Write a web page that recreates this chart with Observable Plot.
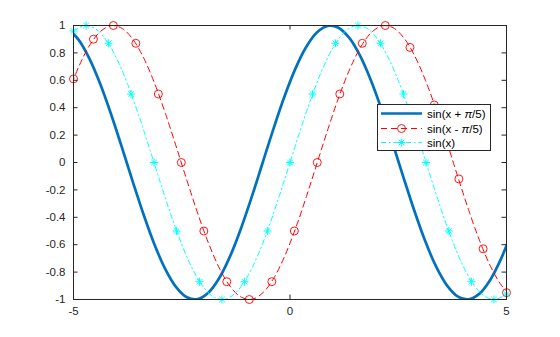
<!DOCTYPE html>
<html>
<head>
<meta charset="utf-8">
<script src="https://cdn.jsdelivr.net/npm/d3@7"></script>
<script src="https://cdn.jsdelivr.net/npm/@observablehq/plot@0.6"></script>
<style>
  html, body { margin: 0; padding: 0; background: #fff; }
  #wrap { position: relative; width: 560px; height: 337px; font-family: "Liberation Sans", Arial, sans-serif; }
  #legend { position: absolute; left: 377px; top: 104px; width: 112px; height: 45px; background: #fff; border: 1px solid #262626; font-size: 11.5px; color: #000; }
  #legend .row { position: absolute; left: 0; height: 15px; display: flex; align-items: center; }
  #legend svg { display: block; }
  #legend span { margin-left: 3px; white-space: nowrap; }
</style>
</head>
<body>
<div id="wrap"></div>
<script>
// ---- data ----
const xTicks = [-5, 0, 5];
const yTicks = [-1, -0.8, -0.6, -0.4, -0.2, 0, 0.2, 0.4, 0.6, 0.8, 1];
const seriesNames = ["sin(x + π/5)", "sin(x - π/5)", "sin(x)"];

// sin(x + pi/5) curve (thick blue)
const blueX = [-5.13, -4.88, -4.63, -4.38, -4.13, -3.88, -3.63, -3.38, -3.13, -2.88, -2.63, -2.38, -2.13, -1.88, -1.63, -1.38, -1.13, -0.88, -0.63, -0.38, -0.13, 0.12, 0.37, 0.62, 0.87, 1.12, 1.37, 1.62, 1.87, 2.12, 2.37, 2.62, 2.87, 3.12, 3.37, 3.62, 3.87, 4.12, 4.37, 4.62, 4.87, 5.12];
const blueY = [0.9775, 0.8950, 0.7568, 0.5716, 0.3508, 0.1082, -0.1411, -0.3817, -0.5985, -0.7781, -0.9093, -0.9840, -0.9975, -0.9490, -0.8415, -0.6816, -0.4794, -0.2474, 0, 0.2474, 0.4794, 0.6816, 0.8415, 0.9490, 0.9975, 0.9840, 0.9093, 0.7781, 0.5985, 0.3817, 0.1411, -0.1082, -0.3508, -0.5716, -0.7568, -0.8950, -0.9775, -0.9993, -0.9589, -0.8589, -0.7055, -0.5082];

// sin(x - pi/5) curve (red dashed)
const redX = [-5.12, -4.87, -4.62, -4.37, -4.12, -3.87, -3.62, -3.37, -3.12, -2.87, -2.62, -2.37, -2.12, -1.87, -1.62, -1.37, -1.12, -0.87, -0.62, -0.37, -0.12, 0.13, 0.38, 0.63, 0.88, 1.13, 1.38, 1.63, 1.88, 2.13, 2.38, 2.63, 2.88, 3.13, 3.38, 3.63, 3.88, 4.13, 4.38, 4.63, 4.88, 5.13];
const redY = [0.5082, 0.7055, 0.8589, 0.9589, 0.9993, 0.9775, 0.8950, 0.7568, 0.5716, 0.3508, 0.1082, -0.1411, -0.3817, -0.5985, -0.7781, -0.9093, -0.9840, -0.9975, -0.9490, -0.8415, -0.6816, -0.4794, -0.2474, 0, 0.2474, 0.4794, 0.6816, 0.8415, 0.9490, 0.9975, 0.9840, 0.9093, 0.7781, 0.5985, 0.3817, 0.1411, -0.1082, -0.3508, -0.5716, -0.7568, -0.8950, -0.9775];
const redMarkX = [-5, -4.54, -4.08, -3.56, -3.04, -2.51, -1.99, -1.46, -0.94, -0.42, 0.10, 0.63, 1.15, 1.67, 2.20, 2.77, 3.33, 3.90, 4.46, 5];
const redMarkY = [0.61, 0.90, 1, 0.87, 0.5, 0, -0.5, -0.87, -1, -0.87, -0.5, 0, 0.5, 0.87, 1, 0.84, 0.42, -0.12, -0.63, -0.95];

// sin(x) curve (cyan dash-dot)
const cyanX = [-5, -4.75, -4.5, -4.25, -4, -3.75, -3.5, -3.25, -3, -2.75, -2.5, -2.25, -2, -1.75, -1.5, -1.25, -1, -0.75, -0.5, -0.25, 0, 0.25, 0.5, 0.75, 1, 1.25, 1.5, 1.75, 2, 2.25, 2.5, 2.75, 3, 3.25, 3.5, 3.75, 4, 4.25, 4.5, 4.75, 5];
const cyanY = [0.9589, 0.9993, 0.9775, 0.8950, 0.7568, 0.5716, 0.3508, 0.1082, -0.1411, -0.3817, -0.5985, -0.7781, -0.9093, -0.9840, -0.9975, -0.9490, -0.8415, -0.6816, -0.4794, -0.2474, 0, 0.2474, 0.4794, 0.6816, 0.8415, 0.9490, 0.9975, 0.9840, 0.9093, 0.7781, 0.5985, 0.3817, 0.1411, -0.1082, -0.3508, -0.5716, -0.7568, -0.8950, -0.9775, -0.9993, -0.9589];
const cyanMarkX = [-5, -4.71, -4.19, -3.67, -3.14, -2.62, -2.09, -1.57, -1.05, -0.52, 0, 0.52, 1.05, 1.57, 2.09, 2.62, 3.14, 3.67, 4.19, 4.71, 5];
const cyanMarkY = [0.96, 1, 0.87, 0.5, 0, -0.5, -0.87, -1, -0.87, -0.5, 0, 0.5, 0.87, 1, 0.87, 0.5, 0, -0.5, -0.87, -1, -0.96];

// ---- build ----
const zip = (xs, ys) => xs.map((x, i) => ({x, y: ys[i]}));
const blue = zip(blueX, blueY), red = zip(redX, redY), cyan = zip(cyanX, cyanY);
const redM = zip(redMarkX, redMarkY), cyanM = zip(cyanMarkX, cyanMarkY);

const BLUE = "#0072BD", RED = "#FF0000", CYAN = "#00FFFF", AX = "#262626";
const W = 560, H = 337, ML = 73, MR = 54, MT = 25, MB = 38;
const PW = W - ML - MR, PH = H - MT - MB;

const starSymbol = {
  draw(ctx, size) {
    const r = Math.sqrt(size / Math.PI);
    const d = r * Math.SQRT1_2;
    ctx.moveTo(-r, 0); ctx.lineTo(r, 0);
    ctx.moveTo(0, -r); ctx.lineTo(0, r);
    ctx.moveTo(-d, -d); ctx.lineTo(d, d);
    ctx.moveTo(-d, d); ctx.lineTo(d, -d);
  }
};

const chart = Plot.plot({
  width: W, height: H,
  marginLeft: ML, marginRight: MR, marginTop: MT, marginBottom: MB,
  style: {fontFamily: '"Liberation Sans", Arial, sans-serif', fontSize: "11.5px", color: AX, background: "white"},
  x: {domain: [-5, 5]},
  y: {domain: [-1, 1]},
  marks: [
    Plot.line(blue, {x: "x", y: "y", stroke: BLUE, strokeWidth: 2.7, curve: "catmull-rom", clip: true}),
    Plot.line(red, {x: "x", y: "y", stroke: RED, strokeWidth: 1, strokeDasharray: "6,4", curve: "catmull-rom", clip: true}),
    Plot.line(cyan, {x: "x", y: "y", stroke: CYAN, strokeWidth: 1, strokeDasharray: "5,3,1.5,3", curve: "catmull-rom", clip: true}),
    Plot.dot(redM, {x: "x", y: "y", r: 4, stroke: RED, strokeWidth: 0.9, fill: "none", symbol: "circle"}),
    Plot.dot(cyanM, {x: "x", y: "y", r: 4, stroke: CYAN, strokeWidth: 1, fill: "none", symbol: starSymbol}),
    Plot.frame({stroke: AX, strokeWidth: 1}),
    // inward ticks on all four sides
    Plot.tickX(xTicks, {x: d => d, stroke: AX, insetTop: PH - 4.5}),
    Plot.tickX(xTicks, {x: d => d, stroke: AX, insetBottom: PH - 4.5}),
    Plot.tickY(yTicks, {y: d => d, stroke: AX, insetLeft: PW - 4.5}),
    Plot.tickY(yTicks, {y: d => d, stroke: AX, insetRight: PW - 4.5}),
    Plot.axisX({ticks: xTicks, tickSize: 0, tickPadding: 7, tickFormat: d => String(d), label: null, fill: AX}),
    Plot.axisY({ticks: yTicks, tickSize: 0, tickPadding: 8, tickFormat: d => String(d), label: null, fill: AX})
  ]
});

const wrap = document.getElementById("wrap");
wrap.appendChild(chart);

// ---- legend ----
const legend = document.createElement("div");
legend.id = "legend";
const items = [
  {label: seriesNames[0], stroke: BLUE, width: 2.7, dash: null, marker: null},
  {label: seriesNames[1], stroke: RED, width: 1, dash: "6,4", marker: "circle"},
  {label: seriesNames[2], stroke: CYAN, width: 1, dash: "5,3,1.5,3", marker: "star"}
];
const tops = [1, 16, 30];
items.forEach((it, i) => {
  const row = document.createElement("div");
  row.className = "row";
  row.style.top = tops[i] + "px";
  const ns = "http://www.w3.org/2000/svg";
  const s = document.createElementNS(ns, "svg");
  s.setAttribute("width", 46); s.setAttribute("height", 15);
  const ln = document.createElementNS(ns, "line");
  ln.setAttribute("x1", 3); ln.setAttribute("x2", 44); ln.setAttribute("y1", 7.5); ln.setAttribute("y2", 7.5);
  ln.setAttribute("stroke", it.stroke); ln.setAttribute("stroke-width", it.width);
  if (it.dash) ln.setAttribute("stroke-dasharray", it.dash);
  s.appendChild(ln);
  if (it.marker === "circle") {
    const c = document.createElementNS(ns, "circle");
    c.setAttribute("cx", 23.5); c.setAttribute("cy", 7.5); c.setAttribute("r", 4);
    c.setAttribute("fill", "none"); c.setAttribute("stroke", it.stroke); c.setAttribute("stroke-width", 0.9);
    s.appendChild(c);
  } else if (it.marker === "star") {
    const p = document.createElementNS(ns, "path");
    const r = 4, d = r * Math.SQRT1_2, cx = 23.5, cy = 7.5;
    p.setAttribute("d", `M${cx - r},${cy}H${cx + r}M${cx},${cy - r}V${cy + r}M${cx - d},${cy - d}L${cx + d},${cy + d}M${cx - d},${cy + d}L${cx + d},${cy - d}`);
    p.setAttribute("stroke", it.stroke); p.setAttribute("fill", "none");
    s.appendChild(p);
  }
  row.appendChild(s);
  const t = document.createElement("span");
  t.innerHTML = it.label.replace("π", "<i>π</i>");
  row.appendChild(t);
  legend.appendChild(row);
});
wrap.appendChild(legend);
</script>
</body>
</html>
